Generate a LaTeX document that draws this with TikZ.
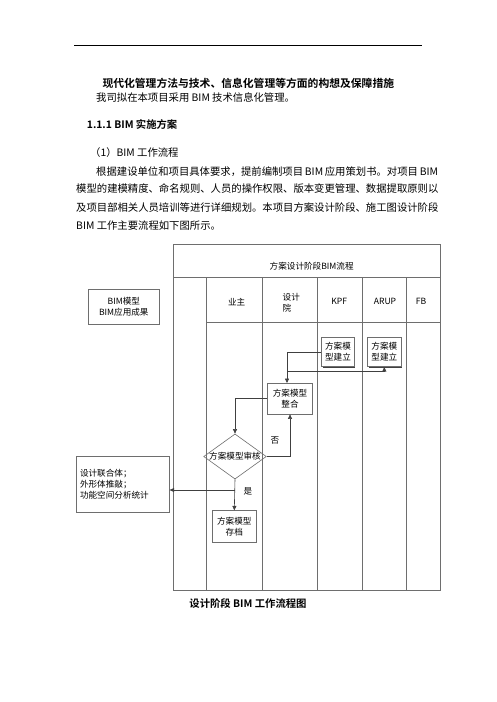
\documentclass[tikz,border=0pt]{standalone}
\usepackage{fontspec}
\setmainfont{Noto Sans CJK SC}[BoldFont={Noto Sans CJK SC Bold}]
\usetikzlibrary{arrows.meta,shapes.geometric,calc}
\definecolor{tline}{HTML}{6E6E6E}
\definecolor{cline}{HTML}{404040}
\tikzset{
  body/.style={anchor=west,inner sep=0pt,font=\fontsize{10.35}{12}\selectfont},
  dtext/.style={font=\fontsize{8.6}{11}\selectfont,inner sep=0pt},
  fbox/.style={draw=tline,line width=0.6pt,minimum width=#1,inner sep=0pt,align=center,font=\fontsize{8.6}{11}\selectfont},
  tab/.style={draw=tline,line width=0.6pt},
  arr/.style={draw=cline,line width=0.6pt,-{Triangle[width=4pt,length=4.5pt]}},
}
\begin{document}
\begin{tikzpicture}[x=1pt,y=-1pt]
\useasboundingbox (0,0) rectangle (496,702);
\fill[white] (0,0) rectangle (496,702);
% header rule and title
\draw[black,line width=0.8pt] (74,45) coordinate (r1) -- (422,45) coordinate (r2);
\node[font=\bfseries\fontsize{10.8}{12}\selectfont,inner sep=0pt] (title) at (248.3,83.2) {现代化管理方法与技术、信息化管理等方面的构想及保障措施};
\node[body] (l1) at (96,97.3) {我司拟在本项目采用 BIM 技术信息化管理。};
\node[body,font=\bfseries\fontsize{10.35}{12}\selectfont] (h1) at (86.7,125) {1.1.1 BIM 实施方案};
\node[body] (h2) at (90,152.3) {（1）BIM 工作流程};
\node[body] (p1) at (96,171.7) {根据建设单位和项目具体要求，提前编制项目\,BIM\,应用策划书。对项目\,BIM};
\node[body] (p2) at (76,189) {模型的建模精度、命名规则、人员的操作权限、版本变更管理、数据提取原则以};
\node[body] (p3) at (76,207.7) {及项目部相关人员培训等进行详细规划。本项目方案设计阶段、施工图设计阶段};
\node[body] (p4) at (76,226) {BIM 工作主要流程如下图所示。};
% table
\draw[tab] (173.3,244.3) rectangle (440,590);
\draw[tab] (173.3,277) -- (440,277);
\draw[tab] (206.7,322) -- (440,322);
\foreach \xx in {206.7,262.3,317.7,362.3,406.7}{\draw[tab] (\xx,277) -- (\xx,590);}
\node[dtext] (th) at (311.7,266) {方案设计阶段BIM流程};
\node[dtext] (c1) at (236.7,301.7) {业主};
\node[dtext,align=left,anchor=west] (c2) at (282.5,303) {设计\\院};
\node[dtext] (c3) at (339.3,301.7) {KPF};
\node[dtext] (c4) at (385,301.7) {ARUP};
\node[dtext] (c5) at (421,301.7) {FB};
% side box
\node[fbox=71pt,minimum height=35.3pt] (bim) at (123.8,306.6) {BIM模型\\BIM应用成果};
% flow nodes
\fill[black!75] (322.7,338.3) rectangle (355.3,367.7);
\node[fbox=32.6pt,minimum height=29.4pt,fill=white] (kpf) at (338,352) {方案模\\型建立};
\fill[black!75] (368.7,338.3) rectangle (402,367.7);
\node[fbox=33.3pt,minimum height=29.4pt,fill=white] (arup) at (384.3,352) {方案模\\型建立};
\node[fbox=45.4pt,minimum height=30.7pt,fill=white] (zh) at (290,398.7) {方案模型\\整合};
\node[draw=tline,line width=0.6pt,diamond,aspect=1.39,minimum width=54.6pt,minimum height=39.3pt,inner sep=0pt,font=\fontsize{8.6}{11}\selectfont] (dia) at (235,456.5) {方案模型审核};
\node[fbox=43.3pt,minimum height=31.6pt,fill=white] (cd) at (234.3,526.5) {方案模型\\存档};
\node[fbox=92.6pt,minimum height=56.3pt,align=left,text width=86pt] (out) at (123,484.1) {设计联合体；\\外形体推敲；\\功能空间分析统计};
% connectors
\coordinate (j) at (287,371);
\coordinate (k) at (235,490);
\draw[arr] (kpf.west) -| ([xshift=-3pt]zh.north);
\draw[arr] (j) -| (arup.south);
\draw[arr] (zh.west) -| (dia.north);
\draw[arr] (dia.east) -| (zh.south);
\draw[arr] (dia.south) -- (cd.north);
\draw[arr] (k) -- (k -| out.east);
\node[dtext] (no) at (275,440.7) {否};
\node[dtext] (yes) at (248,491.7) {是};
% caption
\node[font=\bfseries\fontsize{10.35}{12}\selectfont,inner sep=0pt] (cap) at (248,603.3) {设计阶段 BIM 工作流程图};
\end{tikzpicture}
\end{document}
